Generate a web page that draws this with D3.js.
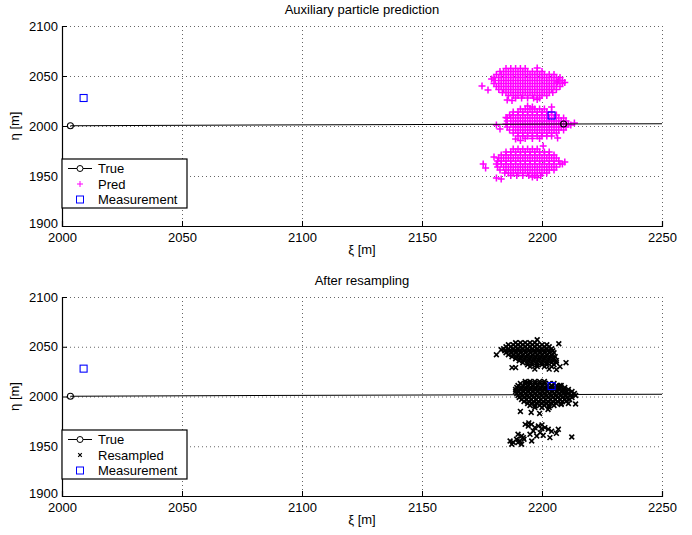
<!DOCTYPE html>
<html><head><meta charset="utf-8">
<script src="https://cdn.jsdelivr.net/npm/d3@7"></script>
<style>body{margin:0;background:#fff}svg{display:block}text{font-family:"Liberation Sans",Arial,Helvetica,sans-serif;font-size:13px;fill:#000}</style>
</head><body><svg id="c" width="692" height="535"></svg>
<script>
// ---------- data ----------
const xTicks = [2000, 2050, 2100, 2150, 2200, 2250];
const yTicks = [1900, 1950, 2000, 2050, 2100];
const titles = ["Auxiliary particle prediction", "After resampling"];
const xLabel = "\u03BE [m]";
const yLabel = "\u03B7 [m]";

const trueTrack = [[2003.5, 2000.3], [2209, 2002], [2250, 2002.3]];
const trueMarkers = [[2003.5, 2000.3], [2209, 2002]];
const measurements = [[2009, 2028], [2204, 2010.5]];

// predicted particles (top), rows: [eta, [xi...]]
const predUpperRows = [
 [2057.5,[2185,2187,2189,2191,2193]],
 [2054.5,[2182.5,2184,2186,2188,2190,2192,2194,2196,2198,2200]],
 [2051.5,[2181,2183,2185,2187,2189,2191,2193,2195,2197,2199,2201,2203,2205]],
 [2048.5,[2180,2182,2184,2186,2188,2190,2192,2194,2196,2198,2200,2202,2204,2206,2207.5]],
 [2045.5,[2180.5,2183,2185,2187,2189,2191,2193,2195,2197,2199,2201,2203,2205,2207,2208.5]],
 [2042.5,[2180,2182,2184,2186,2188,2190,2192,2194,2196,2198,2200,2202,2204,2206,2208.5]],
 [2039.5,[2181,2183,2185,2187,2189,2191,2193,2195,2197,2199,2201,2203,2205,2207.5]],
 [2036.5,[2182,2184,2186,2188,2190,2192,2194,2196,2198,2200,2202,2204,2206]],
 [2033.5,[2183.5,2185,2187,2189,2191,2193,2195,2197,2199,2201,2203,2204.5]],
 [2030.5,[2186,2188,2190,2192,2194,2196,2198,2200,2202]],
 [2028,[2189,2191.5,2194,2196.5,2199]]
];
const predUpperOut = [[2175,2040],[2177.5,2036],[2179,2047],[2185.5,2026],[2187.5,2025.5],[2198,2058],[2206.5,2044],[2209.5,2043.5],[2198,2026.5]];

const predMiddleRows = [
 [2017,[2191,2193,2195,2197,2199,2201]],
 [2014,[2188,2190,2192,2194,2196,2198,2200,2202,2204]],
 [2011,[2186.5,2188,2190,2192,2194,2196,2198,2200,2202,2204,2206]],
 [2008,[2185.5,2187,2189,2191,2193,2195,2197,2199,2201,2203,2205,2207,2209]],
 [2005,[2185.5,2188,2190,2192,2194,2196,2198,2200,2202,2204,2206,2208,2210]],
 [2002,[2185,2187,2189,2191,2193,2195,2197,2199,2201,2203,2205,2207,2209,2211]],
 [1999,[2185.5,2188,2190,2192,2194,2196,2198,2200,2202,2204,2206,2208,2210]],
 [1996,[2186.5,2189,2191,2193,2195,2197,2199,2201,2203,2205,2207,2209]],
 [1993,[2188,2190,2192,2194,2196,2198,2200,2202,2204,2206]],
 [1990,[2190,2192,2194,2196,2198,2200,2202,2204]],
 [1987.5,[2193,2196,2199]]
];
const predMiddleOut = [[2181,2001],[2182.5,1997],[2185,2008.5],[2189,1987],[2191,1985.5],[2204,2019],[2206.5,1988],[2213.5,2003],[2212,2001],[2194,2020],[2196,2019]];

const predLowerRows = [
 [1977,[2188,2190,2192,2194,2196,2198]],
 [1974,[2185,2187,2189,2191,2193,2195,2197,2199,2201,2203]],
 [1971,[2183,2185,2187,2189,2191,2193,2195,2197,2199,2201,2203,2205]],
 [1968,[2182,2184,2186,2188,2190,2192,2194,2196,2198,2200,2202,2204,2206]],
 [1965,[2181.5,2183,2185,2187,2189,2191,2193,2195,2197,2199,2201,2203,2205,2207]],
 [1962,[2181,2183,2185,2187,2189,2191,2193,2195,2197,2199,2201,2203,2205,2207.5]],
 [1959,[2181.5,2184,2186,2188,2190,2192,2194,2196,2198,2200,2202,2204,2206]],
 [1956,[2182.5,2185,2187,2189,2191,2193,2195,2197,2199,2201,2203,2205]],
 [1953,[2184.5,2186,2188,2190,2192,2194,2196,2198,2200,2202]],
 [1950.5,[2187,2189.5,2192,2194.5,2197,2199.5]]
];
const predLowerOut = [[2175.5,1962],[2176.5,1958],[2180,1969],[2200.5,1980],[2209.5,1964],[2208.5,1962],[2181,1948],[2183,1947],[2198,1948.5],[2196,1949]];

// resampled particles (bottom)
const resUpperRows = [
 [2054,[2189,2191,2193,2195,2197]],
 [2052,[2186,2188,2190,2192,2194,2196,2198,2200,2202]],
 [2050,[2185,2187,2189,2191,2193,2195,2197,2199,2201,2203]],
 [2048,[2184,2186,2188,2190,2192,2194,2196,2198,2200,2202,2204]],
 [2046,[2184.5,2186.5,2188.5,2190.5,2192.5,2194.5,2196.5,2198.5,2200.5,2202.5,2204.5]],
 [2044,[2185,2187,2189,2191,2193,2195,2197,2199,2201,2203,2205]],
 [2042,[2186,2188,2190,2192,2194,2196,2198,2200,2202,2204]],
 [2040,[2187.5,2189.5,2191.5,2193.5,2195.5,2197.5,2199.5,2201.5,2203.5,2205.5]],
 [2038,[2189,2191,2193,2195,2197,2199,2201,2203,2205]],
 [2036,[2190.5,2192.5,2194.5,2196.5,2198.5,2200.5,2202.5,2204.5,2206]],
 [2034,[2192,2194,2196,2198,2200,2202,2204,2206]],
 [2032,[2194,2196,2198,2200,2202,2205]],
 [2030,[2195,2198,2201,2204]],
 [2027.5,[2197,2203]]
];
const resUpperOut = [[2181,2042],[2207,2053],[2210,2034],[2187.5,2029],[2189,2029],[2183,2047],[2198,2057],[2207.5,2030],[2206,2027]];

const resMiddleRows = [
 [2015,[2193,2195,2197,2199,2201]],
 [2013,[2191,2193,2195,2197,2199,2201,2203,2205]],
 [2011,[2190,2192,2194,2196,2198,2200,2202,2204,2206,2208]],
 [2009,[2189.5,2191.5,2193.5,2195.5,2197.5,2199.5,2201.5,2203.5,2205.5,2207.5,2209.5]],
 [2007,[2189,2191,2193,2195,2197,2199,2201,2203,2205,2207,2209,2211]],
 [2005,[2189,2190.5,2192.5,2194.5,2196.5,2198.5,2200.5,2202.5,2204.5,2206.5,2208.5,2210.5,2212.5]],
 [2003,[2189.5,2191,2193,2195,2197,2199,2201,2203,2205,2207,2209,2211,2213.5]],
 [2001,[2190,2192,2194,2196,2198,2200,2202,2204,2206,2208,2210,2212,2214]],
 [1999,[2190.5,2192.5,2194.5,2196.5,2198.5,2200.5,2202.5,2204.5,2206.5,2208.5,2210.5,2212.5]],
 [1997,[2191.5,2193.5,2195.5,2197.5,2199.5,2201.5,2203.5,2205.5,2207.5,2209.5,2211.5]],
 [1995,[2192.5,2194.5,2196.5,2198.5,2200.5,2202.5,2204.5,2206.5,2208.5,2210]],
 [1993,[2194,2196,2198,2200,2202,2204,2206,2208]],
 [1991,[2195,2197,2199,2201,2203,2205]],
 [1989,[2197,2200,2203]]
];
const resMiddleOut = [[2191,1985],[2195.5,1984],[2199,1983],[2202.5,1987],[2208,1992],[2211,1993],[2214,1992.5],[2194,2014],[2207.5,2011]];

const resLower = [[2193,1972],[2194.3,1970.3],[2195.7,1972],[2197,1968.7],[2198.5,1970.3],[2199.9,1967.7],[2201.2,1968.7],[2202.6,1967],[2196.4,1965.3],[2199.2,1963.7],[2195,1962],[2200.5,1961],[2206,1963],[2206.8,1967],[2203.3,1958.7],[2212.4,1959.3],[2190,1962],[2191.5,1960.3],[2189.4,1957],[2190.8,1955.3],[2192.2,1958.7],[2186.7,1955.3],[2187.4,1952],[2191.5,1952],[2190,1953.7],[2195.7,1955.3],[2197.8,1960.3],[2194.5,1973.5],[2200,1971.5],[2204,1965],[2188,1954],[2192.5,1957]];

// ---------- helpers ----------
const flat = rows => rows.flatMap(([y, xs]) => xs.map(x => [x, y]));
const predPts = [...flat(predUpperRows), ...predUpperOut, ...flat(predMiddleRows), ...predMiddleOut, ...flat(predLowerRows), ...predLowerOut];
const resPts = [...flat(resUpperRows), ...resUpperOut, ...flat(resMiddleRows), ...resMiddleOut, ...resLower];

const svg = d3.select("#c");
const X0 = 62, X1 = 662;
const panels = [
  {top: 26, bottom: 226, title: titles[0], pts: predPts, kind: "plus", label: "Pred"},
  {top: 297, bottom: 496, title: titles[1], pts: resPts, kind: "x", label: "Resampled"}
];
const plusPath = "M-3.5,0H3.5M0,-3.5V3.5";
const xPath = "M-2.4,-2.4L2.4,2.4M-2.4,2.4L2.4,-2.4";

panels.forEach((p, i) => {
  const x = d3.scaleLinear().domain([2000, 2250]).range([X0, X1]);
  const y = d3.scaleLinear().domain([1900, 2100]).range([p.bottom, p.top]);
  const g = svg.append("g");
  const clipId = "clip" + i;
  svg.append("clipPath").attr("id", clipId).append("rect")
    .attr("x", X0).attr("y", p.top).attr("width", X1 - X0).attr("height", p.bottom - p.top);

  // grid
  const grid = g.append("g").attr("stroke", "#000").attr("stroke-width", 0.8).attr("stroke-dasharray", "1,3").attr("opacity", 0.75);
  grid.selectAll("line.v").data(xTicks).join("line").attr("class", "v")
    .attr("x1", d => x(d) + 0.5).attr("x2", d => x(d) + 0.5).attr("y1", p.top).attr("y2", p.bottom);
  grid.selectAll("line.h").data(yTicks).join("line").attr("class", "h")
    .attr("y1", d => y(d) + 0.5).attr("y2", d => y(d) + 0.5).attr("x1", X0).attr("x2", X1);

  const plot = g.append("g").attr("clip-path", `url(#${clipId})`);
  // particles
  if (p.kind === "plus") {
    plot.append("g").attr("stroke", "#ff00ff").attr("stroke-width", 1.5).attr("fill", "none")
      .selectAll("path").data(p.pts).join("path")
      .attr("transform", d => `translate(${x(d[0])},${y(d[1])})`).attr("d", plusPath);
  } else {
    plot.append("g").attr("stroke", "#000").attr("stroke-width", 1.6).attr("fill", "none")
      .selectAll("path").data(p.pts).join("path")
      .attr("transform", d => `translate(${x(d[0])},${y(d[1])})`).attr("d", xPath);
  }
  // true track
  plot.append("path").datum(trueTrack)
    .attr("d", d3.line().x(d => x(d[0])).y(d => y(d[1])))
    .attr("fill", "none").attr("stroke", "#000").attr("stroke-width", 1.1);
  plot.selectAll("circle.t").data(trueMarkers).join("circle").attr("class", "t")
    .attr("cx", d => x(d[0])).attr("cy", d => y(d[1])).attr("r", 3)
    .attr("fill", "none").attr("stroke", "#000").attr("stroke-width", 1.1);
  // measurements
  plot.selectAll("rect.m").data(measurements).join("rect").attr("class", "m")
    .attr("x", d => x(d[0]) - 3.5).attr("y", d => y(d[1]) - 3.5).attr("width", 7).attr("height", 7)
    .attr("fill", "none").attr("stroke", "#0000ff").attr("stroke-width", 1.1);

  // axes
  const xa = g.append("g").attr("transform", `translate(0,${p.bottom})`)
    .call(d3.axisBottom(x).tickValues(xTicks).tickSize(-5).tickPadding(9).tickFormat(d3.format("d")));
  const ya = g.append("g").attr("transform", `translate(${X0},0)`)
    .call(d3.axisLeft(y).tickValues(yTicks).tickSize(-5).tickPadding(4).tickFormat(d3.format("d")));
  [xa, ya].forEach(a => {
    a.select(".domain").attr("stroke", "#000").attr("stroke-width", 1.2);
    a.selectAll(".tick line").attr("stroke", "#000");
    a.selectAll("text").attr("font-size", 13).attr("font-family", '"Liberation Sans",Arial,sans-serif');
  });
  xa.selectAll(".tick text").attr("dy", "0.55em");
  ya.selectAll(".tick").filter(d => d === 1900).select("text").attr("dy", "0.1em");

  // titles and labels
  svg.append("text").attr("x", (X0 + X1) / 2).attr("y", p.top - 12).attr("text-anchor", "middle").text(p.title);
  svg.append("text").attr("x", (X0 + X1) / 2).attr("y", p.bottom + 28).attr("text-anchor", "middle").text(xLabel);
  svg.append("text").attr("transform", `translate(19,${(p.top + p.bottom) / 2}) rotate(-90)`)
    .attr("text-anchor", "middle").text(yLabel);

  // legend
  const lgTop = i === 0 ? 159 : 430;
  const lg = svg.append("g").attr("transform", `translate(${X0},${lgTop})`);
  lg.append("rect").attr("x", 0).attr("y", 0).attr("width", 125).attr("height", 49)
    .attr("fill", "#fff").attr("stroke", "#000").attr("stroke-width", 1.2);
  const rowsY = [9.5, 25, 40.5];
  const names = ["True", p.label, "Measurement"];
  lg.append("line").attr("x1", 6).attr("x2", 30).attr("y1", rowsY[0]).attr("y2", rowsY[0]).attr("stroke", "#000");
  lg.append("circle").attr("cx", 18).attr("cy", rowsY[0]).attr("r", 3).attr("fill", "#fff").attr("stroke", "#000");
  if (p.kind === "plus") {
    lg.append("path").attr("d", "M-3,0H3M0,-3V3").attr("transform", `translate(18,${rowsY[1]})`).attr("stroke", "#ff00ff").attr("fill", "none");
  } else {
    lg.append("path").attr("d", "M-1.8,-1.8L1.8,1.8M-1.8,1.8L1.8,-1.8").attr("transform", `translate(18,${rowsY[1]})`).attr("stroke", "#000").attr("stroke-width", 1.2).attr("fill", "none");
  }
  lg.append("rect").attr("x", 14.5).attr("y", rowsY[2] - 3.5).attr("width", 7).attr("height", 7).attr("fill", "none").attr("stroke", "#0000ff");
  names.forEach((n, k) => lg.append("text").attr("x", 36).attr("y", rowsY[k]).attr("dy", "0.36em").text(n));
});
</script></body></html>
